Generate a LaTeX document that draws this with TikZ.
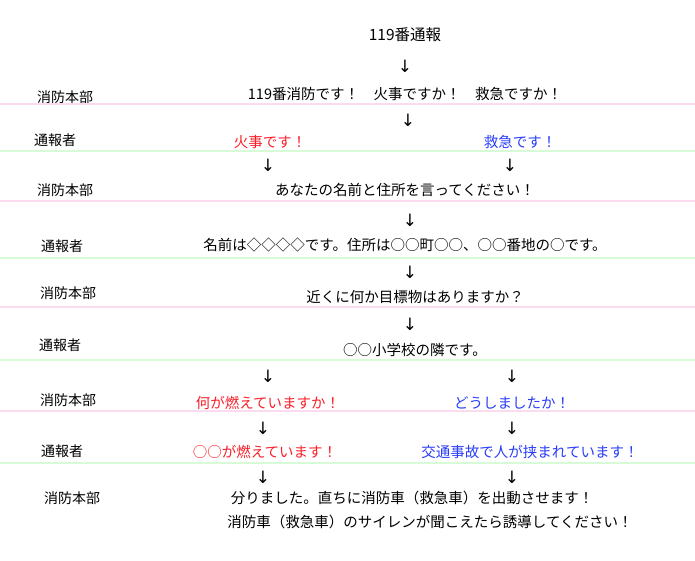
\documentclass[tikz,border=0pt]{standalone}
\usepackage{fontspec}
\setmainfont{Noto Sans CJK JP}
\newfontfamily\arrowfont{DejaVu Sans}
\definecolor{linepink}{RGB}{250,220,238}
\definecolor{linegreen}{RGB}{215,250,215}
\definecolor{firered}{RGB}{250,30,40}
\definecolor{aidblue}{RGB}{40,60,250}
\tikzset{
  speaker/.style={font=\fontsize{14}{16}\selectfont},
  say/.style={font=\fontsize{14.5}{16}\selectfont},
  down/.style={font=\arrowfont\fontsize{17}{17}\selectfont},
  hqline/.style={linepink,line width=2pt},
  callerline/.style={linegreen,line width=2pt}
}
\begin{document}
\begin{tikzpicture}[x=1pt,y=-1pt]
    \useasboundingbox (0,0) rectangle (695,560);
    % Start
    \node[say,font=\fontsize{15.5}{17}\selectfont] (start) at (405,35) {119番通報};
    \node[down] (a0) at (405,66) {↓};

    % Row 1: hq
    \node[speaker] (hq1) at (65,97) {消防本部};
    \node[say] (t1) at (405,94) {119番消防です！\quad 火事ですか！\quad 救急ですか！};
    \draw[hqline] (0,104) -- (695,104);
    \node[down] (a1) at (408,120) {↓};

    % Row 2: caller
    \node[speaker] (cl1) at (55,140) {通報者};
    \node[say,text=firered] (fire1) at (270,142) {火事です！};
    \node[say,text=aidblue] (aid1) at (520,142) {救急です！};
    \draw[callerline] (0,151) -- (695,151);
    \node[down] (a2l) at (268,165) {↓};
    \node[down] (a2r) at (510,165) {↓};

    % Row 3: hq
    \node[speaker] (hq2) at (65,190) {消防本部};
    \node[say] (t3) at (405,190) {あなたの名前と住所を言ってください！};
    \draw[hqline] (0,201) -- (695,201);
    \node[down] (a3) at (410,220) {↓};

    % Row 4: caller
    \node[speaker] (cl2) at (62,246) {通報者};
    \node[say] (t4) at (405,245) {名前は◇◇◇◇です。住所は○○町○○、○○番地の○です。};
    \draw[callerline] (0,258) -- (695,258);
    \node[down] (a4) at (410,272) {↓};

    % Row 5: hq
    \node[speaker] (hq3) at (68,293) {消防本部};
    \node[say] (t5) at (415,297) {近くに何か目標物はありますか？};
    \draw[hqline] (0,307) -- (695,307);
    \node[down] (a5) at (410,324) {↓};

    % Row 6: caller
    \node[speaker] (cl3) at (60,345) {通報者};
    \node[say] (t6) at (415,350) {○○小学校の隣です。};
    \draw[callerline] (0,360) -- (695,360);
    \node[down] (a6l) at (268,376) {↓};
    \node[down] (a6r) at (512,376) {↓};

    % Row 7: hq
    \node[speaker] (hq4) at (68,400) {消防本部};
    \node[say,text=firered] (fire2) at (268,403) {何が燃えていますか！};
    \node[say,text=aidblue] (aid2) at (512,403) {どうしましたか！};
    \draw[hqline] (0,411) -- (695,411);
    \node[down] (a7l) at (263,428) {↓};
    \node[down] (a7r) at (512,428) {↓};

    % Row 8: caller
    \node[speaker] (cl4) at (62,451) {通報者};
    \node[say,text=firered] (fire3) at (265,452) {○○が燃えています！};
    \node[say,text=aidblue] (aid3) at (530,452) {交通事故で人が挟まれています！};
    \draw[callerline] (0,463) -- (695,463);
    \node[down] (a8l) at (263,477) {↓};
    \node[down] (a8r) at (512,477) {↓};

    % Row 9: hq
    \node[speaker] (hq5) at (72,498) {消防本部};
    \node[say] (t9) at (412,498) {分りました。直ちに消防車（救急車）を出動させます！};
    \node[say] (t10) at (430,522) {消防車（救急車）のサイレンが聞こえたら誘導してください！};
\end{tikzpicture}
\end{document}
